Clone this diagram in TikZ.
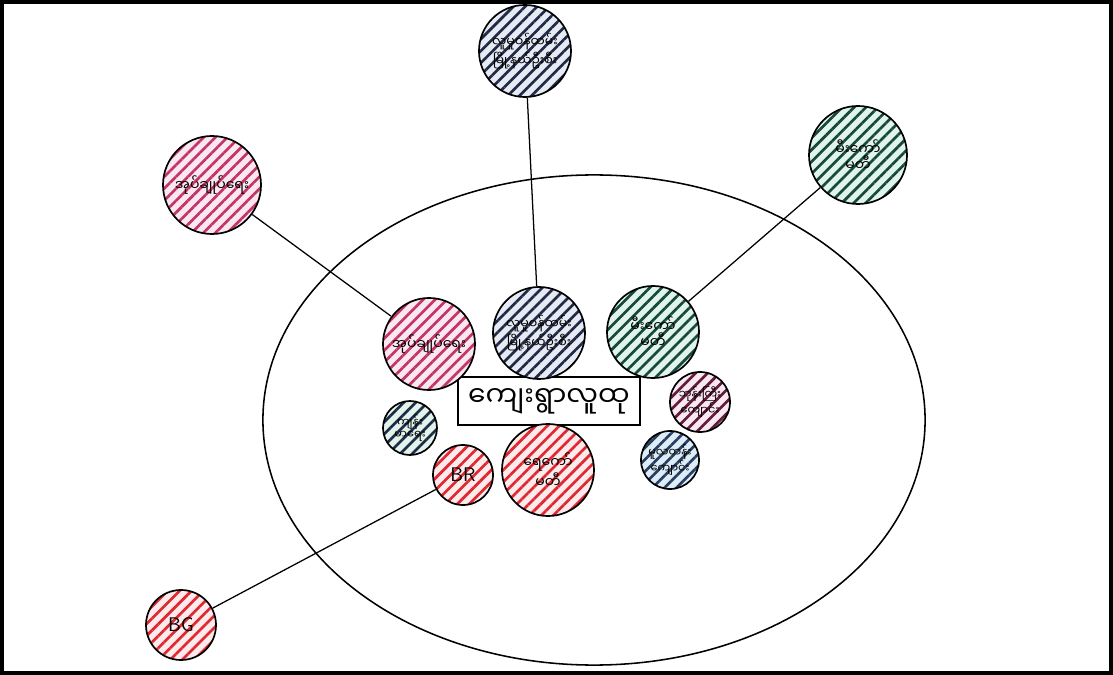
\documentclass[tikz,border=0pt]{standalone}
\usepackage{fontspec}
\newfontfamily\mmfont[Script=Myanmar]{Noto Sans Myanmar UI}
\usetikzlibrary{patterns.meta,shapes.geometric}

\definecolor{pinkink}{RGB}{196,52,104}
\definecolor{pinkbg}{RGB}{250,232,240}
\definecolor{navyink}{RGB}{32,42,70}
\definecolor{navybg}{RGB}{230,235,243}
\definecolor{greenink}{RGB}{22,72,60}
\definecolor{greenbg}{RGB}{224,244,236}
\definecolor{redink}{RGB}{222,40,52}
\definecolor{redbg}{RGB}{253,234,234}
\definecolor{plumink}{RGB}{96,28,58}
\definecolor{blueink}{RGB}{40,62,96}
\definecolor{bluebg}{RGB}{220,237,247}

\begin{document}
\begin{tikzpicture}[x=0.025cm, y=-0.025cm,
    org/.style={circle, draw, line width=1.2pt, inner sep=0pt, align=center,
        font=\mmfont\fontsize{10}{11}\selectfont},
    hatch/.style 2 args={preaction={fill=#2},
        pattern={Lines[angle=45, distance=6pt, line width=1.9pt]}, pattern color=#1},
    big/.style={minimum size=2.45cm},
    mid/.style={minimum size=2.3cm},
    small/.style={minimum size=1.5cm, font=\mmfont\fontsize{8}{9}\selectfont},
    link/.style={line width=0.9pt}
]
\useasboundingbox (0,0) rectangle (1113,675);
\draw[line width=3pt] (2,2) rectangle (1111,673);

% Ruang lingkup
\node[ellipse, draw, line width=1.1pt, minimum width=16.55cm, minimum height=12.25cm, inner sep=0pt] (village) at (594,420) {};
\node[draw, line width=1.1pt, minimum width=4.55cm, minimum height=1.2cm, font=\mmfont\fontsize{20}{22}\selectfont] (people) at (549,401) {ကျေးရွာလူထု};

% Di dalam
\node[org, mid, hatch={pinkink}{pinkbg}] (adminin) at (429,344) {အုပ်ချုပ်ရေး};
\node[org, mid, hatch={navyink}{navybg}, font=\mmfont\fontsize{9}{10.5}\selectfont] (welfarein) at (539,333) {လူမှုဝန်ထမ်း\\မြို့နယ်ဦးစီး};
\node[org, mid, hatch={greenink}{greenbg}] (firein) at (653,332) {မီးကော်\\မတီ};
\node[org, small, hatch={plumink}{pinkbg}] (monastery) at (700,402) {ဘုန်းကြီး\\ကျောင်း};
\node[org, small, minimum size=1.35cm, hatch={navyink}{greenbg}] (health) at (410,428) {ကျန်း\\မာရေး};
\node[org, small, minimum size=1.45cm, hatch={blueink}{bluebg}] (school) at (670,460) {မူလတန်း\\ကျောင်း};
\node[org, small, hatch={redink}{redbg}, font=\sffamily\fontsize{14}{15}\selectfont] (brin) at (463,475) {BR};
\node[org, mid, hatch={redink}{redbg}] (waterin) at (548,470) {ရေကော်\\မတီ};

% Di luar
\node[org, big, hatch={pinkink}{pinkbg}] (adminout) at (212,185) {အုပ်ချုပ်ရေး};
\node[org, mid, hatch={navyink}{navybg}, font=\mmfont\fontsize{9}{10.5}\selectfont] (welfareout) at (525,51) {လူမှုဝန်ထမ်း\\မြို့နယ်ဦးစီး};
\node[org, big, hatch={greenink}{greenbg}] (fireout) at (858,155) {မီးကော်\\မတီ};
\node[org, minimum size=1.75cm, hatch={redink}{redbg}, font=\sffamily\fontsize{14}{15}\selectfont] (brout) at (181,625) {BG};

% Garis
\draw[link] (adminout) -- (adminin);
\draw[link] (welfareout) -- (welfarein);
\draw[link] (fireout) -- (firein);
\draw[link] (brin) -- (brout);

\end{tikzpicture}
\end{document}
